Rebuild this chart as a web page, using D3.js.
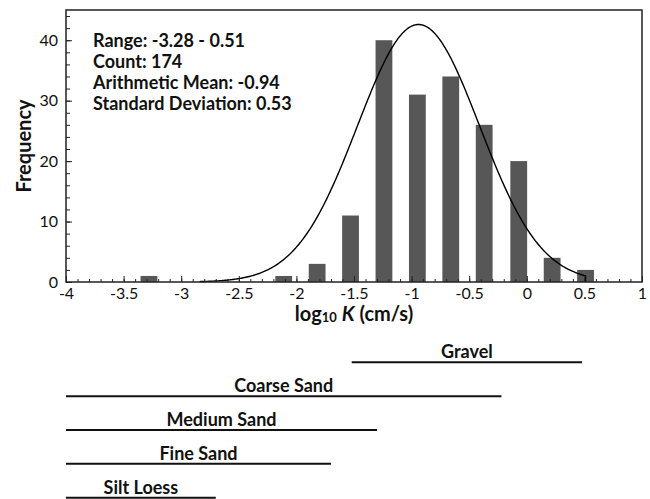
<!DOCTYPE html>
<html>
<head>
  <meta charset="utf-8">
  <title>Histogram of log10 K</title>
  <script src="https://d3js.org/d3.v7.min.js"></script>
  <style>
    body { margin: 0; background: #fff; }
    text { font-family: Lato, "Open Sans", sans-serif; fill: #111; }
  </style>
</head>
<body>
  <svg id="chart"></svg>

  <script>
    // histogram bins (centre of each bin, log10 K) and counts
    const binCenters = [-3.28, -2.99, -2.70, -2.41, -2.11, -1.82, -1.53, -1.24, -0.95, -0.66, -0.37, -0.07, 0.22, 0.51];
    const counts     = [1, 0, 0, 0, 1, 3, 11, 40, 31, 34, 26, 20, 4, 2];

    // fitted normal curve
    const fitMean = -0.94;
    const fitSd = 0.53;
    const fitPeak = 42.6;
    const fitFrom = -2.84;
    const fitTo = 0.51;

    const statLines = [
      "Range: -3.28 - 0.51",
      "Count: 174",
      "Arithmetic Mean: -0.94",
      "Standard Deviation: 0.53"
    ];

    const xTicks = [-4, -3.5, -3, -2.5, -2, -1.5, -1, -0.5, 0, 0.5, 1];
    const yTicks = [0, 10, 20, 30, 40];

    // soil type ranges of log10 K (cm/s)
    const zoneNames = ["Gravel", "Coarse Sand", "Medium Sand", "Fine Sand", "Silt Loess"];
    const zoneFrom  = [-1.52, -4, -4, -4, -4];
    const zoneTo    = [0.48, -0.22, -1.30, -1.70, -2.70];

    const width = 650;
    const height = 499;
    const margin = { left: 66, top: 10, right: 8, bottom: 217 };

    const svg = d3.select("#chart")
      .attr("width", width)
      .attr("height", height);

    const x = d3.scaleLinear().domain([-4, 1]).range([margin.left, width - margin.right]);
    const y = d3.scaleLinear().domain([0, 45]).range([height - margin.bottom, margin.top]);

    // bars, half the bin spacing wide
    const barW = x(binCenters[0] + (binCenters[13] - binCenters[0]) / 26) - x(binCenters[0]);
    svg.append("g").selectAll("rect")
      .data(counts)
      .join("rect")
      .attr("x", (d, i) => x(binCenters[i]) - barW / 2)
      .attr("y", d => y(d))
      .attr("width", barW)
      .attr("height", d => y(0) - y(d))
      .attr("fill", "#575757");

    // normal curve
    const gauss = v => fitPeak * Math.exp(-0.5 * ((v - fitMean) / fitSd) ** 2);
    const pts = d3.range(fitFrom, fitTo, 0.01).map(v => [v, gauss(v)]);
    pts.push([fitTo, gauss(fitTo)], [fitTo, 0]);
    svg.append("path")
      .datum(pts)
      .attr("fill", "none")
      .attr("stroke", "#000")
      .attr("stroke-width", 1.4)
      .attr("d", d3.line().x(d => x(d[0])).y(d => y(d[1])));

    // axes with inward ticks
    const xAxis = svg.append("g")
      .attr("transform", `translate(0,${y(0)})`)
      .call(d3.axisBottom(x).tickValues(xTicks).tickSizeInner(-6).tickSizeOuter(0).tickPadding(6).tickFormat(d => String(d)));
    svg.append("g")
      .attr("transform", `translate(0,${y(0)})`)
      .call(d3.axisBottom(x).tickValues(d3.range(-40, 11).map(d => d / 10)).tickSizeInner(-3).tickSizeOuter(0).tickFormat(""))
      .select(".domain").remove();

    const yAxis = svg.append("g")
      .attr("transform", `translate(${x(-4)},0)`)
      .call(d3.axisLeft(y).tickValues(yTicks).tickSizeInner(-6).tickSizeOuter(0).tickPadding(8));
    svg.append("g")
      .attr("transform", `translate(${x(-4)},0)`)
      .call(d3.axisLeft(y).tickValues(d3.range(0, 46, 2)).tickSizeInner(-4).tickSizeOuter(0).tickFormat(""))
      .select(".domain").remove();

    svg.selectAll(".tick line").attr("stroke", "#222");
    svg.selectAll(".domain").remove();
    xAxis.selectAll("text").attr("font-size", 16).attr("font-family", "Lato").attr("fill", "#111");
    yAxis.selectAll("text").attr("font-size", 16).attr("font-family", "Lato").attr("fill", "#111");

    // frame
    svg.append("rect")
      .attr("x", x(-4))
      .attr("y", y(45))
      .attr("width", x(1) - x(-4))
      .attr("height", y(0) - y(45))
      .attr("fill", "none")
      .attr("stroke", "#222")
      .attr("stroke-width", 1.5);

    // axis titles
    const xt = svg.append("text")
      .attr("x", (x(-4) + x(1)) / 2)
      .attr("y", 321)
      .attr("text-anchor", "middle")
      .attr("font-size", 20)
      .attr("font-weight", "bold");
    xt.append("tspan").text("log");
    xt.append("tspan").attr("font-size", 13).attr("dy", 1).text("10");
    xt.append("tspan").attr("dy", -1).text(" ");
    xt.append("tspan").attr("font-style", "italic").text("K");
    xt.append("tspan").text(" (cm/s)");

    svg.append("text")
      .attr("transform", `translate(31,${(y(0) + y(45)) / 2}) rotate(-90)`)
      .attr("text-anchor", "middle")
      .attr("font-size", 20)
      .attr("font-weight", "bold")
      .text("Frequency");

    // statistics
    svg.append("g").selectAll("text")
      .data(statLines)
      .join("text")
      .attr("x", 93)
      .attr("y", (d, i) => 47.3 + i * 20.9)
      .attr("font-size", 18)
      .attr("font-weight", "bold")
      .text(d => d);

    // soil type bars below the chart
    const zy = d3.scalePoint().domain(zoneNames).range([362.3, 497.7]);
    const zones = svg.append("g").selectAll("g")
      .data(zoneNames)
      .join("g");
    zones.append("line")
      .attr("x1", (d, i) => x(zoneFrom[i]))
      .attr("x2", (d, i) => x(zoneTo[i]))
      .attr("y1", d => zy(d))
      .attr("y2", d => zy(d))
      .attr("stroke", "#111")
      .attr("stroke-width", 2);
    zones.append("text")
      .attr("x", (d, i) => (x(zoneFrom[i]) + x(zoneTo[i])) / 2)
      .attr("y", d => zy(d) - 4)
      .attr("text-anchor", "middle")
      .attr("font-size", 18)
      .attr("font-weight", "bold")
      .text(d => d);
  </script>
</body>
</html>
